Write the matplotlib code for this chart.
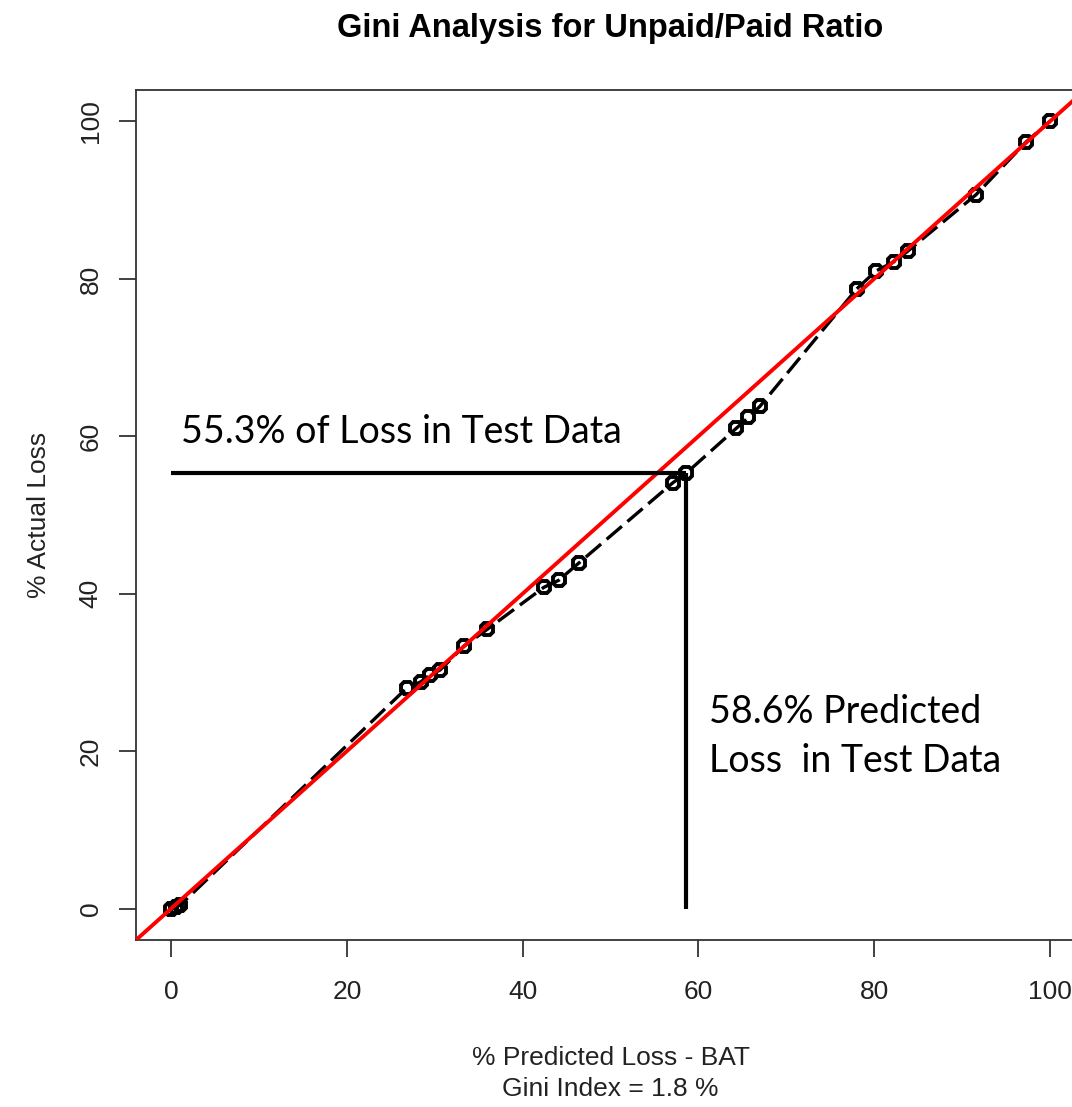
import matplotlib
matplotlib.use("Agg")
import matplotlib.pyplot as plt

# Cumulative curve: % predicted loss vs % actual loss
pred_pct = [0.0, 0.5, 1.0, 26.8, 28.4, 29.5, 30.6, 33.3, 36.0, 42.4, 44.1, 46.4,
            57.1, 58.6, 64.3, 65.7, 67.0, 78.0, 80.2, 82.3, 83.8, 91.6, 97.3, 100.0]
actual_pct = [0.0, 0.2, 0.4, 28.0, 28.8, 29.7, 30.3, 33.3, 35.5, 40.8, 41.7, 43.9,
              54.1, 55.3, 61.0, 62.4, 63.8, 78.7, 81.0, 82.2, 83.5, 90.7, 97.4, 100.0]

# Highlighted cut-off
cut_pred = 58.6
cut_actual = 55.3

ticks = [0, 20, 40, 60, 80, 100]
gini_index = 1.8

plt.rcParams['font.family'] = ['Liberation Sans', 'DejaVu Sans']

fig = plt.figure(figsize=(10.72, 11.07), dpi=100)
ax = fig.add_axes([136 / 1072, 1 - 940 / 1107, 949 / 1072, 850 / 1107])
ax.set_xlim(-4, 104)
ax.set_ylim(-4, 104)

# Reference line of equality
ax.axline((0, 0), slope=1, color='#ff0000', lw=2.8, zorder=3)

# Model curve
ax.plot(pred_pct, actual_pct, color='black', lw=2.4, ls=(0, (6, 2.2)),
        marker='8', ms=10, mfc='none', mec='black', mew=2.8, zorder=2)

# Cut-off guides
ax.plot([0, cut_pred], [cut_actual, cut_actual], color='black', lw=3, solid_capstyle='butt', zorder=4)
ax.plot([cut_pred, cut_pred], [0, cut_actual], color='black', lw=3, solid_capstyle='butt', zorder=4)

ann_font = ['Lato', 'DejaVu Sans']
ax.text(1.1, 59.2, f"{cut_actual}% of Loss in Test Data", fontsize=27,
        family=ann_font, color='black', ha='left', va='baseline')
ax.text(61.2, 17.3, f"{cut_pred}% Predicted\nLoss  in Test Data", fontsize=27,
        family=ann_font, color='black', ha='left', va='baseline', linespacing=1.45)

ax.set_xticks(ticks)
ax.set_yticks(ticks)
ax.set_xticklabels([str(t) for t in ticks], fontsize=19, color='#222222')
ax.set_yticklabels([str(t) for t in ticks], fontsize=19, color='#222222',
                   rotation=90, va='center')
ax.tick_params(axis='x', length=12, width=1.3, color='#333333', pad=17)
ax.tick_params(axis='y', length=12, width=1.3, color='#333333', pad=12)
for s in ax.spines.values():
    s.set_color('#333333')
    s.set_linewidth(1.3)

ax.set_xlabel(f"% Predicted Loss - BAT\nGini Index = {gini_index} %", fontsize=19,
              color='#222222', labelpad=30, linespacing=1.38)
ax.set_ylabel("% Actual Loss", fontsize=19, color='#222222', labelpad=20)

fig.text(610 / 1072, 1 - 28 / 1107, "Gini Analysis for Unpaid/Paid Ratio",
         fontsize=23.5, fontweight='bold', ha='center', va='center', color='black')

fig.savefig("out.png", dpi=100)
